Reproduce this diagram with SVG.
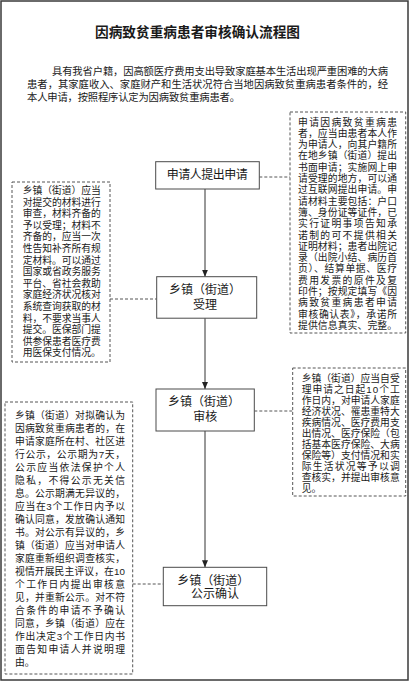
<svg xmlns="http://www.w3.org/2000/svg" width="410" height="682" viewBox="0 0 410 682">
<style>
text{font-family:"Liberation Sans","Noto Sans CJK SC",sans-serif;fill:#1a1a1a;dominant-baseline:central}
.title{font-size:14px;font-weight:bold}
.para{font-size:10.3px}
.note{font-size:9.8px}
.node text{font-size:12px;text-anchor:middle}
.nodebox{fill:#fff;stroke:#4a4a4a;stroke-width:1}
.notebox{fill:none;stroke:#555;stroke-width:1;stroke-dasharray:3 2}
.dash{stroke:#555;stroke-width:1;stroke-dasharray:3 2;fill:none}
.arrow{stroke:#333;stroke-width:1;fill:none;marker-end:url(#ah)}
</style>
<defs>
<marker id="ah" viewBox="0 0 7 6" refX="7" refY="3" markerWidth="7" markerHeight="6" markerUnits="userSpaceOnUse" orient="auto">
<path d="M0,0 L7,3 L0,6 z" fill="#222"/>
</marker>
</defs>
<rect x="0" y="0" width="410" height="682" fill="#fff"/>
<rect x="1" y="1" width="407" height="679" fill="none" stroke="#3a3a3a" stroke-width="1.5"/>

<g id="title">
<text class="title" x="95" y="32" textLength="205" lengthAdjust="spacingAndGlyphs">因病致贫重病患者审核确认流程图</text>
</g>
<g id="intro">
<text class="para" x="52" y="71" textLength="336" lengthAdjust="spacing">具有我省户籍，因高额医疗费用支出导致家庭基本生活出现严重困难的大病</text>
<text class="para" x="27" y="84.3" textLength="361" lengthAdjust="spacing">患者，其家庭收入、家庭财产和生活状况符合当地因病致贫重病患者条件的，经</text>
<text class="para" x="27" y="97.7" textLength="213" lengthAdjust="spacing">本人申请，按照程序认定为因病致贫重病患者。</text>
</g>

<g id="connectors">
<line class="arrow" x1="205" y1="189" x2="205" y2="276.7"/>
<line class="arrow" x1="205" y1="318.2" x2="205" y2="389"/>
<line class="arrow" x1="205" y1="431" x2="205" y2="567.3"/>
<line class="dash" x1="259.3" y1="177" x2="290" y2="177"/>
<line class="dash" x1="110" y1="299" x2="156.7" y2="299"/>
<line class="dash" x1="254.3" y1="411" x2="292.7" y2="411"/>
<line class="dash" x1="132.7" y1="584" x2="163.3" y2="584"/>
</g>

<g id="node-apply" class="node">
<rect class="nodebox" x="155.7" y="161.7" width="103.6" height="27.3"/>
<text x="207.2" y="174.5" textLength="81" lengthAdjust="spacing">申请人提出申请</text>
</g>
<g id="node-accept" class="node">
<rect class="nodebox" x="156.7" y="276.7" width="100" height="41.5"/>
<text x="205" y="290">乡镇（街道）</text>
<text x="205" y="305">受理</text>
</g>
<g id="node-review" class="node">
<rect class="nodebox" x="156" y="389" width="98.3" height="42"/>
<text x="204" y="402">乡镇（街道）</text>
<text x="205.3" y="417">审核</text>
</g>
<g id="node-publicity" class="node">
<rect class="nodebox" x="163.3" y="567.3" width="103.4" height="38.4"/>
<text x="213.3" y="580.7">乡镇（街道）</text>
<text x="215" y="594.3">公示确认</text>
</g>

<g id="note-apply">
<rect class="notebox" x="290" y="112" width="115.7" height="221"/>
<text class="note" x="298" y="122" textLength="99" lengthAdjust="spacing">申请因病致贫重病患</text>
<text class="note" x="298" y="133.3" textLength="99" lengthAdjust="spacing">者，应当由患者本人作</text>
<text class="note" x="298" y="144.6" textLength="99" lengthAdjust="spacing">为申请人，向其户籍所</text>
<text class="note" x="298" y="155.9" textLength="99" lengthAdjust="spacing">在地乡镇（街道）提出</text>
<text class="note" x="298" y="167.2" textLength="99" lengthAdjust="spacing">书面申请；实施网上申</text>
<text class="note" x="298" y="178.5" textLength="99" lengthAdjust="spacing">请受理的地方，可以通</text>
<text class="note" x="298" y="189.8" textLength="99" lengthAdjust="spacing">过互联网提出申请。申</text>
<text class="note" x="298" y="201.1" textLength="99" lengthAdjust="spacing">请材料主要包括：户口</text>
<text class="note" x="298" y="212.4" textLength="99" lengthAdjust="spacing">簿、身份证等证件，已</text>
<text class="note" x="298" y="223.7" textLength="99" lengthAdjust="spacing">实行证明事项告知承</text>
<text class="note" x="298" y="235" textLength="99" lengthAdjust="spacing">诺制的可不提供相关</text>
<text class="note" x="298" y="246.3" textLength="99" lengthAdjust="spacing">证明材料；患者出院记</text>
<text class="note" x="298" y="257.6" textLength="99" lengthAdjust="spacing">录（出院小结、病历首</text>
<text class="note" x="298" y="268.9" textLength="99" lengthAdjust="spacing">页）、结算单据、医疗</text>
<text class="note" x="298" y="280.2" textLength="99" lengthAdjust="spacing">费用发票的原件及复</text>
<text class="note" x="298" y="291.5" textLength="99" lengthAdjust="spacing">印件；按规定填写《因</text>
<text class="note" x="298" y="302.8" textLength="99" lengthAdjust="spacing">病致贫重病患者申请</text>
<text class="note" x="298" y="314.1" textLength="99" lengthAdjust="spacing">审核确认表》，承诺所</text>
<text class="note" x="298" y="325.4" textLength="99" lengthAdjust="spacing">提供信息真实、完整。</text>
</g>

<g id="note-accept">
<rect class="notebox" x="12" y="182" width="98" height="180"/>
<text class="note" x="22.7" y="190.5" textLength="78" lengthAdjust="spacing">乡镇（街道）应当</text>
<text class="note" x="22.7" y="202.1" textLength="78" lengthAdjust="spacing">对提交的材料进行</text>
<text class="note" x="22.7" y="213.7" textLength="78" lengthAdjust="spacing">审查，材料齐备的</text>
<text class="note" x="22.7" y="225.3" textLength="78" lengthAdjust="spacing">予以受理；材料不</text>
<text class="note" x="22.7" y="236.9" textLength="78" lengthAdjust="spacing">齐备的，应当一次</text>
<text class="note" x="22.7" y="248.5" textLength="78" lengthAdjust="spacing">性告知补齐所有规</text>
<text class="note" x="22.7" y="260.1" textLength="78" lengthAdjust="spacing">定材料。可以通过</text>
<text class="note" x="22.7" y="271.7" textLength="78" lengthAdjust="spacing">国家或省政务服务</text>
<text class="note" x="22.7" y="283.3" textLength="78" lengthAdjust="spacing">平台、省社会救助</text>
<text class="note" x="22.7" y="294.9" textLength="78" lengthAdjust="spacing">家庭经济状况核对</text>
<text class="note" x="22.7" y="306.5" textLength="78" lengthAdjust="spacing">系统查询获取的材</text>
<text class="note" x="22.7" y="318.1" textLength="78" lengthAdjust="spacing">料，不要求当事人</text>
<text class="note" x="22.7" y="329.7" textLength="78" lengthAdjust="spacing">提交。医保部门提</text>
<text class="note" x="22.7" y="341.3" textLength="78" lengthAdjust="spacing">供参保患者医疗费</text>
<text class="note" x="22.7" y="352.9" textLength="78" lengthAdjust="spacing">用医保支付情况。</text>
</g>

<g id="note-review">
<rect class="notebox" x="292.7" y="368" width="113" height="128"/>
<text class="note" x="301.7" y="378" textLength="98" lengthAdjust="spacing">乡镇（街道）应当自受</text>
<text class="note" x="301.7" y="389" textLength="98" lengthAdjust="spacing">理申请之日起10个工</text>
<text class="note" x="301.7" y="400" textLength="98" lengthAdjust="spacing">作日内，对申请人家庭</text>
<text class="note" x="301.7" y="411" textLength="98" lengthAdjust="spacing">经济状况、罹患重特大</text>
<text class="note" x="301.7" y="422" textLength="98" lengthAdjust="spacing">疾病情况、医疗费用支</text>
<text class="note" x="301.7" y="433" textLength="98" lengthAdjust="spacing">出情况、医疗保险（包</text>
<text class="note" x="301.7" y="444" textLength="98" lengthAdjust="spacing">括基本医疗保险、大病</text>
<text class="note" x="301.7" y="455" textLength="98" lengthAdjust="spacing">保险等）支付情况和实</text>
<text class="note" x="301.7" y="466" textLength="98" lengthAdjust="spacing">际生活状况等予以调</text>
<text class="note" x="301.7" y="477" textLength="98" lengthAdjust="spacing">查核实，并提出审核意</text>
<text class="note" x="301.7" y="488">见。</text>
</g>

<g id="note-publicity">
<rect class="notebox" x="5" y="402" width="127.7" height="272"/>
<text class="note" x="15" y="415" textLength="110" lengthAdjust="spacing">乡镇（街道）对拟确认为</text>
<text class="note" x="15" y="428" textLength="110" lengthAdjust="spacing">因病致贫重病患者的，在</text>
<text class="note" x="15" y="441" textLength="110" lengthAdjust="spacing">申请家庭所在村、社区进</text>
<text class="note" x="15" y="454" textLength="110" lengthAdjust="spacing">行公示，公示期为7天，</text>
<text class="note" x="15" y="467" textLength="110" lengthAdjust="spacing">公示应当依法保护个人</text>
<text class="note" x="15" y="480" textLength="110" lengthAdjust="spacing">隐私，不得公示无关信</text>
<text class="note" x="15" y="493" textLength="110" lengthAdjust="spacing">息。公示期满无异议的，</text>
<text class="note" x="15" y="506" textLength="110" lengthAdjust="spacing">应当在3个工作日内予以</text>
<text class="note" x="15" y="519" textLength="110" lengthAdjust="spacing">确认同意，发放确认通知</text>
<text class="note" x="15" y="532" textLength="110" lengthAdjust="spacing">书。对公示有异议的，乡</text>
<text class="note" x="15" y="545" textLength="110" lengthAdjust="spacing">镇（街道）应当对申请人</text>
<text class="note" x="15" y="558" textLength="110" lengthAdjust="spacing">家庭重新组织调查核实，</text>
<text class="note" x="15" y="571" textLength="110" lengthAdjust="spacing">视情开展民主评议，在10</text>
<text class="note" x="15" y="584" textLength="110" lengthAdjust="spacing">个工作日内提出审核意</text>
<text class="note" x="15" y="597" textLength="110" lengthAdjust="spacing">见，并重新公示。对不符</text>
<text class="note" x="15" y="610" textLength="110" lengthAdjust="spacing">合条件的申请不予确认</text>
<text class="note" x="15" y="623" textLength="110" lengthAdjust="spacing">同意，乡镇（街道）应在</text>
<text class="note" x="15" y="636" textLength="110" lengthAdjust="spacing">作出决定3个工作日内书</text>
<text class="note" x="15" y="649" textLength="110" lengthAdjust="spacing">面告知申请人并说明理</text>
<text class="note" x="15" y="662">由。</text>
</g>
</svg>
